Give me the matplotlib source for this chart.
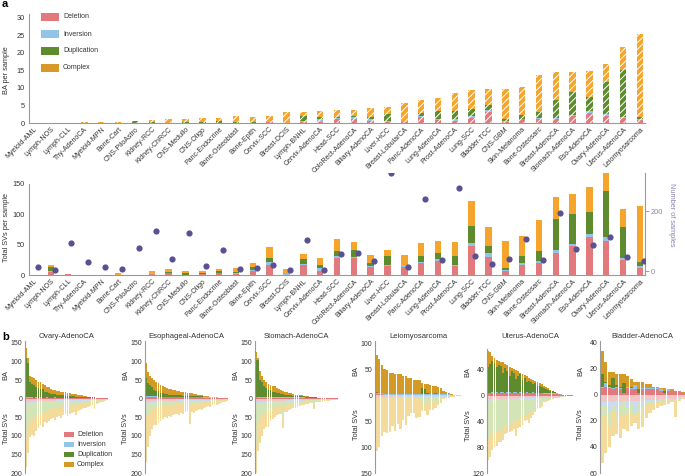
import numpy as np
import matplotlib
matplotlib.use("Agg")
import matplotlib.pyplot as plt
from matplotlib.patches import Rectangle

# ---------------- data: panel a ----------------
cats = ["Myeloid-AML", "Lymph-NOS", "Lymph-CLL", "Thy-AdenoCA", "Myeloid-MPN", "Bone-Cart",
        "CNS-PiloAstro", "Kidney-RCC", "Kidney-ChRCC", "CNS-Medullo", "CNS-Oligo", "Panc-Endocrine",
        "Bone-Osteoblast", "Bone-Epith", "Cervix-SCC", "Breast-DCIS", "Lymph-BNHL", "Cervix-AdenoCA",
        "Head-SCC", "ColoRect-AdenoCA", "Biliary-AdenoCA", "Liver-HCC", "Breast-LobularCA",
        "Panc-AdenoCA", "Lung-AdenoCA", "Prost-AdenoCA", "Lung-SCC", "Bladder-TCC", "CNS-GBM",
        "Skin-Melanoma", "Bone-Osteosarc", "Breast-AdenoCA", "Stomach-AdenoCA", "Eso-AdenoCA",
        "Ovary-AdenoCA", "Uterus-AdenoCA", "Leiomyosarcoma"]

ba_del = [0, 0, 0, 0, 0, 0.05, 0, 0.05, 0.1, 0, 0, 0.1, 0.1, 0, 0.3, 0, 0.4, 0.4, 1.0, 1.2, 0.6, 0.4,
          0.2, 1.7, 0.8, 0.7, 1.5, 3.1, 0.3, 1.0, 1.2, 1.0, 2.0, 2.9, 1.9, 1.5, 0.8]
ba_inv = [0, 0, 0, 0, 0, 0, 0, 0, 0, 0, 0, 0, 0, 0, 0.2, 0, 0.1, 0.6, 0.3, 0.4, 0.4, 0.2, 0, 0.3, 0.3,
          0.3, 0.4, 0.5, 0.2, 0.1, 0.3, 0.4, 0.2, 0.4, 0.6, 0.3, 0.3]
ba_dup = [0, 0, 0, 0, 0, 0, 0.5, 0.1, 0, 0.2, 0.4, 0.4, 0.1, 0.3, 0.2, 0.1, 1.6, 0.8, 0.3, 0.3, 0.8,
          2.0, 0.1, 0.9, 2.3, 2.5, 2.1, 1.5, 0.6, 1.3, 1.7, 5.0, 6.6, 4.0, 9.2, 13.4, 0.6]
ba_cpx = [0, 0, 0, 0.15, 0.15, 0.35, 0.1, 0.65, 0.9, 0.8, 1.0, 0.9, 1.7, 1.5, 1.4, 3.0, 0.9, 1.5, 2.0,
          1.9, 2.6, 2.0, 5.5, 3.6, 3.6, 5.1, 5.5, 4.7, 8.7, 7.9, 10.4, 8.0, 5.7, 7.6, 5.2, 6.5, 23.5]

sv_del = [0.3, 5, 1.5, 0.3, 0.2, 0.5, 0.3, 1.5, 3, 0.5, 1, 3, 2, 7, 16, 0.5, 16, 7, 28, 27.6, 13.8, 15,
          13.8, 19.9, 22.6, 15, 48, 30.3, 6.6, 17, 20.4, 37, 48.5, 62.3, 56.8, 24.8, 12]
sv_inv = [0, 1, 0, 0, 0, 0, 0, 1, 1, 0.3, 1, 1, 1, 1.5, 5, 0.5, 2, 4, 4, 1.7, 1.7, 1.7, 2, 2.2, 3.3,
          1.7, 5.5, 5.5, 1.7, 2.2, 3.3, 4.4, 2.8, 5, 5.5, 3.3, 3.3]
sv_dup = [0, 7, 0, 0, 0, 0.3, 0.2, 1, 1.5, 2.0, 1, 2, 2, 4.5, 7, 0.5, 9, 5, 7, 12, 5, 13.8, 1, 10, 11,
          15.4, 27, 12.7, 3.9, 11.6, 15.4, 50.7, 49.6, 35.8, 75.6, 50.7, 6.6]
sv_cpx = [0.2, 3.5, 0.2, 0.3, 0.2, 2.2, 0.2, 3, 4, 3.8, 3.5, 4, 7, 7.5, 18, 8, 8, 12.5, 20, 13.3, 12.5,
          10.5, 16, 20.3, 18.8, 22.5, 40.8, 30.4, 43, 33.7, 51.9, 36.4, 32, 41.9, 30.3, 29.8, 92.3]

n_samples = [12, 2, 92, 30, 14, 7, 77, 134, 40, 126, 17, 71, 6, 11, 19, 3, 104, 2, 57, 61, 32, 327, 13,
             239, 36, 277, 49, 23, 41, 107, 38, 194, 73, 88, 113, 46, 34]

# ---------------- data: panel b ----------------
# Ovary-AdenoCA
ov_ba_del = [3, 3, 3, 3, 2, 3, 2, 3, 2, 2, 3, 2, 2, 2, 3, 2, 2, 2, 2, 2, 2, 2, 2, 2, 2, 2, 2, 2, 2, 2, 2, 2,
             2, 2, 2, 1.5, 1.5, 1, 1, 1]
ov_ba_inv = [1, 1, 1, 0.5, 1, 0.5, 1, 0.5, 1, 0.5, 0.5, 1, 0.5, 0.5, 0.5, 0.5, 0.5, 0.5, 0.5, 0.5, 0.5,
             0.5, 0.5, 0.5, 0.5, 0.5, 0.5, 0.5, 0.5, 0.5, 0.5, 0.5, 0.5, 0.5, 0.5, 0.5, 0, 0, 0, 0]
ov_ba_dup = [105, 92, 40, 36, 34, 28, 26, 22, 22, 16, 15, 12, 11, 10, 9, 8, 7, 7, 6, 5, 5, 4, 4, 4, 3, 3,
             3, 2, 2, 2, 1, 1, 1, 1, 0.5, 0.5, 0.5, 0, 0, 0]
ov_ba_cpx = [26, 14, 18, 18, 18, 18, 17, 18, 15, 17, 14, 15, 13, 12, 10, 10, 10, 9, 9, 9, 8, 8, 7, 6, 6,
             5, 4, 4, 3, 2, 2, 1.5, 0.5, 0, 0, 0, 0, 0, 0, 0]
ov_sv_del = [10, 10, 8, 8, 8, 8, 7, 7, 7, 6, 6, 6, 6, 6, 6, 5, 5, 5, 5, 5, 5, 5, 5, 4, 4, 4, 4, 4, 4, 4,
             4, 3, 3, 3, 3, 3, 3, 3, 2, 2]
ov_sv_inv = [4, 4, 3, 3, 3, 3, 3, 3, 3, 3, 3, 2, 2, 2, 2, 2, 2, 2, 2, 2, 2, 2, 2, 2, 2, 2, 2, 2, 2, 2, 2,
             2, 2, 2, 2, 1, 1, 1, 1, 1]
ov_sv_dup = [90, 60, 45, 40, 45, 35, 35, 30, 30, 25, 28, 22, 20, 18, 22, 18, 15, 18, 14, 12, 15, 12, 10,
             10, 14, 8, 8, 7, 6, 6, 5, 5, 4, 6, 3, 3, 2, 1, 1, 0]
ov_sv_cpx = [81, 71, 46, 47, 44, 42, 35, 32, 35, 30, 29, 30, 27, 26, 28, 25, 26, 27, 24, 23, 24, 21, 21,
             20, 25, 19, 16, 15, 14, 12, 11, 10, 9, 16, 7, 5, 4, 3, 2, 2]

# Esophageal-AdenoCA
es_ba_del = [5, 5, 5, 5, 5, 5, 4, 4, 4, 4, 4, 4, 4, 4, 4, 4, 4, 4, 4, 4, 4, 4, 4, 4, 4, 4, 4, 4, 3, 3, 3,
             3, 3, 3, 3, 2.5, 2, 1.5, 1, 1]
es_ba_inv = [1, 1, 1, 1, 1, 1, 1, 1, 1, 1, 1, 1, 1, 1, 1, 1, 1, 1, 1, 1, 1, 1, 1, 1, 1, 1, 1, 1, 1, 1, 1,
             1, 1, 0.5, 0.5, 0.5, 0.5, 0.5, 0.5, 0]
es_ba_dup = [50, 35, 30, 25, 18, 15, 15, 10, 10, 8, 8, 6, 6, 5, 5, 5, 4, 4, 3, 3, 3, 3, 2, 2, 2, 2, 1, 1,
             1, 1, 0.5, 0.5, 0, 0, 0, 0, 0, 0, 0, 0]
es_ba_cpx = [39, 31, 26, 24, 26, 25, 22, 23, 19, 18, 16, 16, 14, 13, 12, 11, 11, 10, 10, 9, 8, 7, 7, 6,
             5, 4, 4, 3, 3, 2, 1.5, 0.5, 0.5, 0.5, 0, 0, 0, 0, 0, 0]
es_sv_del = [12, 10, 9, 8, 8, 8, 7, 7, 7, 6, 6, 6, 6, 6, 6, 6, 5, 5, 5, 5, 5, 5, 5, 5, 5, 4, 4, 4, 4, 4,
             4, 4, 3, 3, 3, 3, 3, 3, 2, 2]
es_sv_inv = [4, 3, 3, 3, 3, 3, 3, 2, 2, 2, 2, 2, 2, 2, 2, 2, 2, 2, 2, 2, 2, 2, 2, 2, 2, 2, 2, 2, 2, 2, 2,
             2, 1, 1, 1, 1, 1, 1, 1, 1]
es_sv_dup = [30, 30, 22, 18, 15, 14, 14, 12, 10, 10, 10, 9, 9, 8, 8, 7, 8, 7, 7, 6, 6, 10, 6, 5, 5, 5, 5,
             4, 4, 3, 3, 3, 2, 2, 2, 2, 1, 1, 1, 0]
es_sv_cpx = [124, 87, 66, 53, 46, 45, 42, 39, 36, 32, 34, 31, 33, 29, 26, 25, 29, 24, 26, 23, 21, 51, 22,
             26, 20, 19, 17, 20, 15, 13, 11, 13, 12, 9, 10, 8, 7, 5, 5, 4]

# Stomach-AdenoCA
st_ba_del = [4, 3, 3, 3, 3, 3, 3, 3, 3, 3, 3, 3, 3, 3, 3, 3, 3, 3, 3, 3, 3, 3, 3, 3, 2, 2, 2, 2, 2, 2, 2,
             2, 2, 1.5, 1.5, 1, 1, 1, 0.5, 0.5]
st_ba_inv = [1, 1, 1, 1, 1, 1, 1, 1, 1, 1, 1, 1, 1, 1, 1, 1, 1, 1, 1, 1, 1, 1, 1, 1, 1, 1, 1, 1, 1, 1,
             0.5, 0.5, 0.5, 0.5, 0.5, 0.5, 0, 0, 0, 0]
st_ba_dup = [100, 100, 45, 40, 30, 25, 20, 18, 15, 15, 12, 10, 8, 8, 7, 6, 5, 5, 4, 4, 3, 3, 3, 2, 2, 2,
             1, 1, 1, 1, 0.5, 0.5, 0, 0, 0, 0, 0, 0, 0, 0]
st_ba_cpx = [20, 6, 26, 18, 16, 16, 16, 15, 16, 14, 12, 11, 10, 8, 8, 7, 6, 5, 4, 3, 3, 3, 2, 2, 2, 1, 1,
             1, 0, 0, 0, 0, 0, 0, 0, 0, 0, 0, 0, 0]
st_sv_del = [10, 10, 9, 8, 8, 8, 7, 7, 7, 6, 6, 6, 6, 6, 6, 5, 5, 5, 5, 5, 5, 4, 4, 4, 4, 4, 4, 4, 4, 3,
             3, 3, 3, 3, 3, 2, 2, 2, 2, 2]
st_sv_inv = [3, 3, 3, 3, 3, 3, 3, 2, 2, 2, 2, 2, 2, 2, 2, 2, 2, 2, 2, 2, 2, 2, 2, 1, 1, 1, 1, 1, 1, 1, 1,
             1, 1, 1, 1, 1, 1, 1, 1, 0]
st_sv_dup = [110, 50, 40, 35, 28, 25, 26, 20, 18, 16, 14, 12, 13, 45, 10, 11, 9, 8, 7, 7, 6, 5, 4, 4, 3,
             3, 3, 2, 15, 2, 2, 2, 1, 1, 1, 1, 1, 0, 0, 0]
st_sv_cpx = [77, 77, 68, 54, 43, 39, 40, 31, 28, 26, 23, 20, 21, 25, 17, 18, 14, 13, 11, 12, 9, 9, 8, 7,
             7, 6, 5, 5, 8, 4, 4, 3, 3, 2, 1, 2, 1, 2, 1, 1]

# Leiomyosarcoma
le_ba_del = [2, 2, 2, 1, 1, 1, 1, 1, 1, 1, 1, 1, 1, 1, 1, 1, 1, 1, 1, 1, 1, 1, 1, 1, 1, 1, 1, 1, 0.5, 0.5,
             0.5, 0.5]
le_ba_inv = [2, 2, 1, 1, 1, 1, 0.5, 0.5, 0.5, 0.5, 0.5, 0.5, 0.5, 0.5, 0.5, 0.5, 0.5, 0.5, 0.5, 0.5, 0.5,
             0.5, 0.5, 0.5, 0.5, 0.5, 0.5, 0.5, 0.5, 0, 0, 0]
le_ba_dup = [1, 0, 0, 0, 0, 0, 0, 0, 0, 0, 0, 0, 0, 0, 0, 0, 0, 13, 10, 2, 0, 0, 3, 0, 0, 0, 0, 0, 0, 0,
             0, 0]
le_ba_cpx = [73, 66, 54, 48, 47, 41, 40.5, 39.5, 38.5, 38.5, 35.5, 34.5, 31.5, 30.5, 27.5, 27.5, 26.5,
             8.5, 10.5, 18.5, 17.5, 16.5, 12.5, 13.5, 11.5, 6.5, 3.5, 1.5, 1, 0.5, 0.5, 0]
le_sv_del = [3, 3, 3, 3, 3, 3, 3, 3, 3, 3, 2, 2, 2, 2, 2, 2, 2, 2, 2, 2, 2, 2, 2, 2, 2, 2, 2, 2, 1, 1, 1, 1]
le_sv_inv = [3, 3, 2, 2, 2, 2, 2, 2, 2, 2, 1, 1, 1, 1, 1, 1, 1, 1, 1, 1, 1, 1, 1, 1, 1, 1, 1, 1, 1, 1, 0, 0]
le_sv_dup = [0, 0, 0, 2, 0, 0, 2, 0, 0, 3, 0, 5, 0, 0, 3, 0, 5, 15, 20, 10, 18, 5, 12, 8, 3, 2, 0, 0, 0,
             0, 0, 0]
le_sv_cpx = [102, 94, 73, 65, 68, 67, 53, 65, 50, 57, 45, 50, 37, 32, 29, 42, 34, 12, 7, 25, 7, 20, 10, 9,
             9, 3, 3, 2, 2, 1, 1, 1]

# Uterus-AdenoCA
ut_ba_del = [4, 4, 5, 4, 5, 4, 5, 5, 4, 5, 5, 4, 5, 5, 4, 5, 4, 4, 5, 4, 4, 5, 4, 4, 4, 4, 3, 3, 3, 3, 3,
             3, 3, 2, 1.5, 1.5, 1, 1, 0.5, 0.5]
ut_ba_inv = [1, 1, 1, 1, 1, 1, 1, 1, 1, 1, 1, 1, 1, 1, 1, 1, 1, 1, 1, 1, 1, 1, 1, 1, 1, 1, 1, 1, 1, 1, 1,
             0.5, 0.5, 0.5, 0.5, 0, 0, 0, 0, 0]
ut_ba_dup = [40, 45, 48, 46, 38, 42, 40, 30, 38, 32, 25, 33, 30, 20, 26, 28, 20, 22, 15, 18, 16, 12, 14,
             10, 10, 8, 8, 6, 5, 4, 3, 2, 1, 0.5, 0, 0, 0, 0, 0, 0]
ut_ba_cpx = [25, 18, 8, 7, 11, 7, 7, 16, 7, 9, 14, 5, 6, 14, 7, 2, 9, 5, 9, 5, 5, 7, 4, 7, 5, 5, 3, 3, 3,
             1, 1, 0.5, 0.5, 0, 0, 0, 0, 0, 0, 0]
ut_sv_del = [6, 6, 5, 5, 5, 5, 5, 5, 5, 5, 5, 5, 5, 5, 4, 4, 4, 4, 4, 4, 4, 4, 4, 3, 3, 3, 3, 3, 3, 2, 2,
             2, 2, 2, 1, 1, 1, 1, 1, 1]
ut_sv_inv = [2, 2, 2, 2, 2, 2, 2, 2, 2, 2, 2, 2, 2, 2, 2, 2, 2, 2, 2, 2, 1, 1, 1, 1, 1, 1, 1, 1, 1, 1, 1,
             1, 0, 0, 0, 0, 0, 0, 0, 0]
ut_sv_dup = [60, 55, 50, 55, 50, 48, 45, 50, 40, 38, 40, 36, 30, 35, 32, 30, 28, 25, 24, 22, 20, 18, 15,
             10, 11, 8, 4, 3, 2, 2, 1, 1, 1, 1, 1, 0, 0, 0, 0, 0]
ut_sv_cpx = [32, 32, 28, 18, 21, 17, 20, 11, 13, 13, 9, 12, 15, 20, 12, 12, 11, 9, 8, 14, 10, 7, 5, 6, 4,
             6, 2, 2, 2, 1, 1, 0, 0, 0, 0, 1, 1, 0, 0, 0]

# Bladder-AdenoCA
bl_ba_del = [5, 6, 5, 4, 5, 4, 1, 5, 4, 4, 1, 4, 4, 4, 4, 4, 3, 1, 3, 3, 2, 2, 1]
bl_ba_inv = [1, 3, 1, 1, 1, 1, 0, 1, 1, 3, 0, 1, 1, 1, 1, 1, 1, 0, 1, 0, 0, 0, 0]
bl_ba_dup = [10, 1, 1, 8, 1, 1, 8, 0, 1, 0, 3, 0, 0, 0, 0, 0, 0, 2, 0, 0, 0, 0, 0]
bl_ba_cpx = [17, 15, 10, 4, 9, 10, 7, 8, 6, 3, 6, 5, 3, 3, 1, 1, 1, 2, 0, 1, 1, 1, 1]
bl_sv_del = [6, 6, 5, 6, 5, 6, 5, 5, 5, 5, 5, 5, 4, 4, 4, 4, 3, 3, 3, 3, 3, 2, 2]
bl_sv_inv = [2, 2, 8, 2, 6, 2, 1, 5, 2, 8, 2, 4, 1, 1, 1, 1, 1, 1, 1, 1, 1, 1, 0]
bl_sv_dup = [10, 8, 10, 5, 8, 6, 10, 4, 8, 3, 6, 4, 4, 2, 2, 1, 1, 1, 1, 0, 2, 0, 0]
bl_sv_cpx = [34, 29, 17, 19, 11, 19, 10, 14, 9, 6, 13, 12, 9, 7, 5, 4, 4, 3, 2, 2, 11, 2, 1]

legend_labels = ["Deletion", "Inversion", "Duplication", "Complex"]

# ---------------- styling ----------------
W, H = 685, 476
plt.rcParams['font.family'] = ['Liberation Sans', 'DejaVu Sans']
plt.rcParams['hatch.color'] = 'white'
plt.rcParams['hatch.linewidth'] = 0.7

C_DEL = '#E27A7D'
C_INV = '#93C3E6'
C_DUP = '#5E8B2E'
C_CPXA = '#F5A52B'
C_CPXL = '#D6992A'
C_CPXB = '#D39B25'
P_DEL = '#F2C6C7'
P_INV = '#C8DDF1'
P_DUP = '#D3E4B6'
P_CPX = '#F4DB9C'
AX_COL = '#9A9A9A'
TXT = '#333333'
PURP = '#5A5193'
PURP_L = '#8A84B2'

fig = plt.figure(figsize=(W / 100, H / 100), dpi=100)


def R(x0, y0, x1, y1):
    return [x0 / W, 1 - y1 / H, (x1 - x0) / W, (y1 - y0) / H]


def style_ax(ax):
    for s in ['top', 'right']:
        ax.spines[s].set_visible(False)
    for s in ['left', 'bottom']:
        ax.spines[s].set_color(AX_COL)
        ax.spines[s].set_linewidth(0.8)
    ax.tick_params(axis='y', labelsize=5.3, colors=TXT, length=0, pad=3)
    ax.tick_params(axis='x', labelsize=5, colors=TXT, length=0, pad=2)


x = np.arange(len(cats))

# ---------------- panel a, top ----------------
ax1 = fig.add_axes(R(29, 14, 645, 123))
bot = np.zeros(len(cats))
for vals, col in zip((ba_del, ba_inv, ba_dup, ba_cpx), (C_DEL, C_INV, C_DUP, C_CPXA)):
    vals = np.array(vals, float)
    ax1.bar(x, vals, bottom=bot, width=0.38, color=col, edgecolor='white', linewidth=0, hatch='/////')
    bot += vals
ax1.set_xlim(-0.3, 36.3)
ax1.set_ylim(0, 31)
ax1.set_yticks([0, 5, 10, 15, 20, 25, 30])
ax1.set_xticks(x)
ax1.set_xticklabels(cats, rotation=45, ha='right', rotation_mode='anchor')
style_ax(ax1)
fig.text(7 / W, 1 - 70 / H, "BA per sample", rotation=90, ha='center', va='center', fontsize=5.3,
         color=TXT)

for i, (lab, col) in enumerate(zip(legend_labels, (C_DEL, C_INV, C_DUP, C_CPXL))):
    yc = 17 + 17 * i
    fig.patches.append(Rectangle((41 / W, 1 - (yc + 4) / H), 18 / W, 8 / H, transform=fig.transFigure,
                                 facecolor=col, edgecolor='none'))
    fig.text(63 / W, 1 - yc / H, lab, ha='left', va='center', fontsize=5, color=TXT)

# ---------------- panel a, bottom ----------------
ax2 = fig.add_axes(R(29, 173, 645, 275))
bot = np.zeros(len(cats))
for vals, col in zip((sv_del, sv_inv, sv_dup, sv_cpx), (C_DEL, C_INV, C_DUP, C_CPXA)):
    vals = np.array(vals, float)
    ax2.bar(x, vals, bottom=bot, width=0.38, color=col, linewidth=0)
    bot += vals
ax2.set_xlim(-0.3, 36.3)
ax2.set_ylim(0, 168)
ax2.set_yticks([0, 50, 100, 150])
ax2.spines['left'].set_bounds(0, 150)
ax2.set_xticks(x)
ax2.set_xticklabels(cats, rotation=45, ha='right', rotation_mode='anchor')
style_ax(ax2)
fig.text(7 / W, 1 - 228 / H, "Total SVs per sample", rotation=90, ha='center', va='center',
         fontsize=5.3, color=TXT)

ax2r = ax2.twinx()
ax2r.scatter(x + 0.22, n_samples, s=20, color=PURP, zorder=5, linewidths=0)
ax2r.set_ylim(-13.3, 327)
ax2r.set_xlim(-0.3, 36.3)
ax2r.set_yticks([0, 200])
for s in ['top', 'left', 'bottom']:
    ax2r.spines[s].set_visible(False)
ax2r.spines['right'].set_color(AX_COL)
ax2r.spines['right'].set_linewidth(0.8)
ax2r.tick_params(axis='y', labelsize=5.3, colors=PURP_L, length=3, width=0.6, pad=1)
fig.text(672 / W, 1 - 215 / H, "Number of samples", rotation=270, ha='center', va='center',
         fontsize=5.3, color=PURP_L)

# ---------------- panel b ----------------
up_cols = (C_DEL, C_INV, C_DUP, C_CPXB)
pale_cols = (P_DEL, P_INV, P_DUP, P_CPX)


def draw_b(x0, x1, title, ba, sv, ylim, yticks, spine_top=None):
    ax = fig.add_axes(R(x0, 341, x1, 473))
    n = len(ba[0])
    xx = np.arange(n)
    b = np.zeros(n)
    for vals, col in zip(ba, up_cols):
        vals = np.array(vals, float)
        ax.bar(xx, vals, bottom=b, width=0.9, color=col, linewidth=0)
        b += vals
    b = np.zeros(n)
    for vals, col in zip(sv, pale_cols):
        vals = -np.array(vals, float)
        ax.bar(xx, vals, bottom=b, width=0.9, color=col, linewidth=0)
        b += vals
    ax.set_xlim(-0.5, n - 0.5)
    ax.set_ylim(*ylim)
    ax.set_yticks(yticks)
    ax.set_yticklabels([str(abs(t)) for t in yticks])
    ax.set_xticks([])
    for s in ['top', 'right', 'bottom']:
        ax.spines[s].set_visible(False)
    ax.spines['left'].set_color(AX_COL)
    ax.spines['left'].set_linewidth(0.8)
    if spine_top is not None:
        ax.spines['left'].set_bounds(ylim[0], spine_top)
    ax.tick_params(axis='y', labelsize=5, colors=TXT, length=0, pad=2)
    ax.set_title(title, fontsize=5.5, color=TXT, pad=2)
    y0 = ax.transData.transform((0, 0))[1]
    fig.text((x0 - 19) / W, (y0 + 24) / H, "BA", rotation=90, ha='center', va='center', fontsize=5.3,
             color=TXT)
    fig.text((x0 - 19) / W, (y0 - 30) / H, "Total SVs", rotation=90, ha='center', va='center',
             fontsize=5.3, color=TXT)
    return ax


draw_b(25, 108, "Ovary-AdenoCA", (ov_ba_del, ov_ba_inv, ov_ba_dup, ov_ba_cpx),
       (ov_sv_del, ov_sv_inv, ov_sv_dup, ov_sv_cpx), (-200, 155), [150, 100, 50, 0, -50, -100, -150, -200])
draw_b(145, 228, "Esophageal-AdenoCA", (es_ba_del, es_ba_inv, es_ba_dup, es_ba_cpx),
       (es_sv_del, es_sv_inv, es_sv_dup, es_sv_cpx), (-200, 155), [150, 100, 50, 0, -50, -100, -150, -200])
draw_b(255, 338, "Stomach-AdenoCA", (st_ba_del, st_ba_inv, st_ba_dup, st_ba_cpx),
       (st_sv_del, st_sv_inv, st_sv_dup, st_sv_cpx), (-200, 155), [150, 100, 50, 0, -50, -100, -150, -200])
draw_b(375, 461, "Leiomyosarcoma", (le_ba_del, le_ba_inv, le_ba_dup, le_ba_cpx),
       (le_sv_del, le_sv_inv, le_sv_dup, le_sv_cpx), (-150, 104), [100, 50, 0, -50, -100, -150])
draw_b(487, 573, "Uterus-AdenoCA", (ut_ba_del, ut_ba_inv, ut_ba_dup, ut_ba_cpx),
       (ut_sv_del, ut_sv_inv, ut_sv_dup, ut_sv_cpx), (-120, 85), [40, 0, -40, -80, -120], spine_top=72)
draw_b(600, 685, "Bladder-AdenoCA", (bl_ba_del, bl_ba_inv, bl_ba_dup, bl_ba_cpx),
       (bl_sv_del, bl_sv_inv, bl_sv_dup, bl_sv_cpx), (-60, 41), [40, 20, 0, -20, -40, -60])

for i, (lab, col) in enumerate(zip(legend_labels, (C_DEL, C_INV, C_DUP, C_CPXB))):
    yc = 434 + 10 * i
    fig.patches.append(Rectangle((64 / W, 1 - (yc + 2.5) / H), 10 / W, 5 / H, transform=fig.transFigure,
                                 facecolor=col, edgecolor='none'))
    fig.text(77 / W, 1 - yc / H, lab, ha='left', va='center', fontsize=5, color=TXT)

fig.text(2 / W, 1 - 4 / H, "a", fontsize=8, fontweight='bold', ha='left', va='center')
fig.text(2 / W, 1 - 337 / H, "b", fontsize=8, fontweight='bold', ha='left', va='center')

fig.savefig("out.png", dpi=100)
